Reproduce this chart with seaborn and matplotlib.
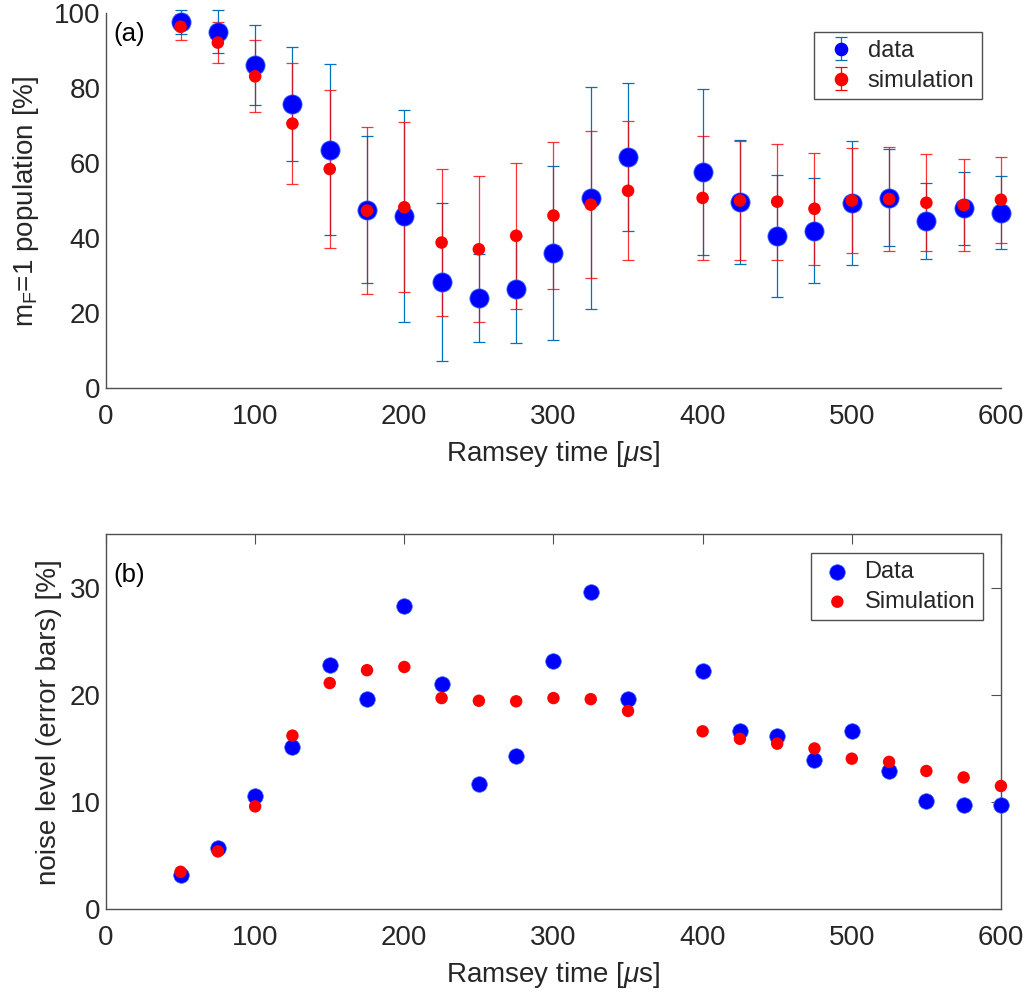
import numpy as np
import pandas as pd
import matplotlib
matplotlib.use("Agg")
import matplotlib.pyplot as plt
import seaborn as sns

# ---------------- data ----------------
ramsey_time = [50, 75, 100, 125, 150, 175, 200, 225, 250, 275, 300, 325, 350,
               400, 425, 450, 475, 500, 525, 550, 575, 600]
pop_data = [97.8, 95.1, 86.2, 75.8, 63.6, 47.7, 46.0, 28.4, 24.2, 26.4, 36.0, 50.8, 61.7,
            57.7, 49.7, 40.7, 42.1, 49.4, 50.9, 44.7, 48.0, 46.9]
pop_sim = [96.4, 92.2, 83.2, 70.6, 58.5, 47.4, 48.3, 38.9, 37.1, 40.7, 46.1, 49.0, 52.7,
           50.8, 50.1, 49.8, 47.9, 50.1, 50.5, 49.5, 48.9, 50.3]
noise_data = [3.2, 5.7, 10.6, 15.1, 22.8, 19.6, 28.3, 21.0, 11.7, 14.3, 23.2, 29.6, 19.6,
              22.2, 16.6, 16.2, 13.9, 16.6, 12.9, 10.1, 9.7, 9.7]
noise_sim = [3.5, 5.4, 9.6, 16.2, 21.1, 22.3, 22.6, 19.7, 19.45, 19.4, 19.7, 19.6, 18.5,
             16.6, 15.9, 15.45, 15.0, 14.05, 13.75, 12.9, 12.3, 11.5]

xticks = [0, 100, 200, 300, 400, 500, 600]
yticks_a = [0, 20, 40, 60, 80, 100]
yticks_b = [0, 10, 20, 30]

df = pd.DataFrame({"t": ramsey_time, "pd": pop_data, "ps": pop_sim,
                   "nd": noise_data, "ns": noise_sim})

# ---------------- style ----------------
sns.set_theme(style="white")
plt.rcParams["font.family"] = ["Liberation Sans", "DejaVu Sans"]
plt.rcParams["mathtext.fontset"] = "custom"
plt.rcParams["mathtext.rm"] = "Liberation Sans"
plt.rcParams["mathtext.it"] = "Liberation Sans:italic"
plt.rcParams["mathtext.bf"] = "Liberation Sans:bold"

TXT = "#262626"
SPINE = "#505050"
BLUE = "#0000FF"
EBLUE = "#0072BD"
RED = "#FF0000"
FS = 20
LFS = 17

fig = plt.figure(figsize=(10.32, 10.01), dpi=100)
ax1 = fig.add_axes([0.1027, 0.6119, 0.8672, 0.3748])
ax2 = fig.add_axes([0.1027, 0.0916, 0.8672, 0.3749])

cap = 4.3
elw = 0.9

# ---------------- panel (a) ----------------
e1 = ax1.errorbar(df["t"], df["pd"], yerr=df["nd"], fmt="none", ecolor=EBLUE,
                  elinewidth=elw, capsize=cap, capthick=elw, zorder=2)
e2 = ax1.errorbar(df["t"], df["ps"], yerr=df["ns"], fmt="none", ecolor=RED,
                  elinewidth=elw, capsize=cap, capthick=elw, alpha=0.8, zorder=2.1)
for cont in (e1, e2):
    for art in cont.get_children():
        art.set_clip_on(False)
sns.scatterplot(data=df, x="t", y="pd", ax=ax1, color=BLUE, s=190,
                edgecolor="#3060FF", linewidth=0.6, zorder=3, legend=False, clip_on=False)
sns.scatterplot(data=df, x="t", y="ps", ax=ax1, color=RED, s=82,
                edgecolor="none", zorder=4, legend=False, clip_on=False)

# legend proxies
h1 = ax1.errorbar([np.nan], [np.nan], yerr=[np.nan], fmt="o", color=BLUE, ecolor=EBLUE,
                  ms=8.8, elinewidth=elw, capsize=cap, capthick=elw, label="data")
h2 = ax1.errorbar([np.nan], [np.nan], yerr=[np.nan], fmt="o", color=RED, ecolor=RED,
                  ms=8.8, elinewidth=elw, capsize=cap, capthick=elw, label="simulation")
leg1 = ax1.legend(handles=[h1, h2], loc="upper right", bbox_to_anchor=(0.9788, 0.9494),
                  fontsize=LFS, frameon=True, fancybox=False, framealpha=1,
                  edgecolor=SPINE, handlelength=1.6, handletextpad=0.35,
                  borderpad=0.32, labelspacing=0.34, borderaxespad=0)
leg1.get_frame().set_linewidth(1.0)

ax1.set_xlim(0, 600)
ax1.set_ylim(0, 100)
ax1.set_xticks(xticks)
ax1.set_yticks(yticks_a)
ax1.set_xlabel(r"Ramsey time [$\mu$s]", fontsize=FS, color=TXT, labelpad=7)
ax1.set_ylabel(r"m$_\mathrm{F}$=1 population [%]", fontsize=FS, color=TXT, labelpad=9)
ax1.text(0.008, 0.977, "(a)", transform=ax1.transAxes, fontsize=18.5, color="black",
         ha="left", va="top")
ax1.spines["top"].set_visible(False)
ax1.spines["right"].set_visible(False)

# ---------------- panel (b) ----------------
sns.scatterplot(data=df, x="t", y="nd", ax=ax2, color=BLUE, s=125,
                edgecolor="#3060FF", linewidth=0.5, zorder=3, label="Data", clip_on=False)
sns.scatterplot(data=df, x="t", y="ns", ax=ax2, color=RED, s=80,
                edgecolor="none", zorder=4, label="Simulation", clip_on=False)
leg2 = ax2.legend(loc="upper right", bbox_to_anchor=(0.9796, 0.9486),
                  fontsize=LFS, frameon=True, fancybox=False, framealpha=1,
                  edgecolor=SPINE, handlelength=1.6, handletextpad=0.35,
                  borderpad=0.32, labelspacing=0.34, borderaxespad=0)
leg2.get_frame().set_linewidth(1.0)

ax2.set_xlim(0, 600)
ax2.set_ylim(0, 35)
ax2.set_xticks(xticks)
ax2.set_yticks(yticks_b)
ax2.set_xlabel(r"Ramsey time [$\mu$s]", fontsize=FS, color=TXT, labelpad=7)
ax2.set_ylabel("noise level (error bars) [%]", fontsize=FS, color=TXT, labelpad=5)
ax2.text(0.008, 0.923, "(b)", transform=ax2.transAxes, fontsize=18.5, color="black",
         ha="left", va="top")

for ax in (ax1, ax2):
    for sp in ax.spines.values():
        sp.set_color(SPINE)
        sp.set_linewidth(1.0)
    ax.tick_params(axis="both", direction="in", length=7, width=0.8, color=SPINE,
                   labelsize=FS, labelcolor=TXT)
    ax.tick_params(axis="x", pad=11)
    ax.tick_params(axis="y", pad=4)
ax2.tick_params(top=True, right=True)

fig.savefig("out.png", dpi=100)
